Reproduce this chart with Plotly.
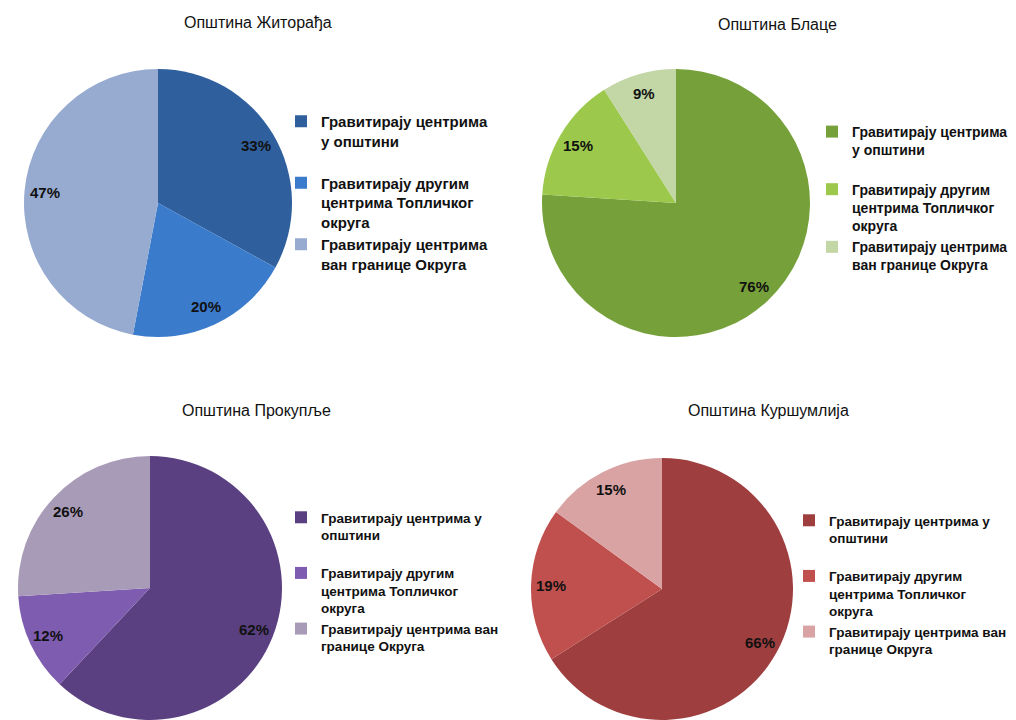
import math
import plotly.graph_objects as go

W, H = 1016, 720
OFF = 8  # page body margin offset

labels_a = [
    "Гравитирају центрима<br>у општини<br>\u00a0",
    "Гравитирају другим<br>центрима Топличког<br>округа",
    "Гравитирају центрима<br>ван границе Округа",
]
labels_b = [
    "Гравитирају центрима у<br>општини<br>\u00a0",
    "Гравитирају другим<br>центрима Топличког<br>округа",
    "Гравитирају центрима ван<br>границе Округа",
]

titles = ["Општина Житорађа", "Општина Блаце", "Општина Прокупље", "Општина Куршумлија"]

zitoradja = [33, 20, 47]
blace = [76, 15, 9]
prokuplje = [62, 12, 26]
kursumlija = [66, 19, 15]

colors_zit = ["#2f5f9c", "#3b7bcb", "#97abd0"]
colors_bla = ["#76a03a", "#9cc84b", "#c3d6a6"]
colors_pro = ["#5a4080", "#7e5caf", "#a89bb8"]
colors_kur = ["#9e3e3e", "#c0504d", "#d9a3a3"]

# page-pixel layout: pie center x, y, radius,
# legend anchor x, legend top y, legend xanchor, legend font size, title x, y
panels = [
    (zitoradja, labels_a, colors_zit, 158, 203, 134, 281, 105, "left", 15, 258, 22),
    (blace, labels_a, colors_bla, 676, 203, 134, 1013, 116, "right", 14, 777, 24),
    (prokuplje, labels_b, colors_pro, 150, 588, 132, 281, 502, "left", 13.5, 256, 410),
    (kursumlija, labels_b, colors_kur, 662, 589, 131, 1012, 505, "right", 13.5, 768, 410),
]

FONT = "Liberation Sans, Arial, sans-serif"


def px(x):
    return (x - OFF) / W


def py(y):
    return 1 - (y - OFF) / H


fig = go.Figure()
legend_names = ["legend", "legend2", "legend3", "legend4"]
layout_legends = {}
annotations = []
for i, (vals, labs, cols, cx, cy, r, lx, ly, lanchor, lsize, tx, ty) in enumerate(panels):
    # unique labels per pie so each legend lists its own entries
    uniq = [lab + "\u200b" * i for lab in labs]
    fig.add_trace(go.Pie(
        values=vals,
        labels=uniq,
        sort=False,
        direction="clockwise",
        rotation=0,
        marker=dict(colors=cols, line=dict(width=0)),
        textinfo="none",
        domain=dict(x=[px(cx - r), px(cx + r)],
                    y=[max(0, py(cy + r)), min(1, py(cy - r))]),
        legend=legend_names[i],
        hoverinfo="percent",
    ))
    layout_legends[legend_names[i]] = dict(
        x=px(lx), y=py(ly), xanchor=lanchor, yanchor="top",
        font=dict(family=FONT, size=lsize, color="#111111", weight="bold"),
        bgcolor="rgba(0,0,0,0)", traceorder="normal", valign="top",
    )
    annotations.append(dict(
        text=titles[i], x=px(tx), y=py(ty), xref="paper", yref="paper",
        showarrow=False, xanchor="center", yanchor="middle",
        font=dict(family=FONT, size=16, color="#111111"),
    ))
    # percentage labels at 0.85 r along each slice's mid angle
    total = sum(vals)
    cum = 0
    for v in vals:
        mid = (cum + v / 2) / total * 2 * math.pi
        cum += v
        lxp = cx + 0.85 * r * math.sin(mid)
        lyp = cy - 0.85 * r * math.cos(mid)
        annotations.append(dict(
            text=f"{round(100 * v / total)}%", x=px(lxp), y=py(lyp),
            xref="paper", yref="paper", showarrow=False,
            xanchor="center", yanchor="middle",
            font=dict(family=FONT, size=15, color="#111111", weight="bold"),
        ))

fig.update_layout(
    width=W, height=H,
    margin=dict(l=0, r=0, t=0, b=0),
    paper_bgcolor="white",
    plot_bgcolor="white",
    annotations=annotations,
    **layout_legends,
)

fig.write_html("out.html")
